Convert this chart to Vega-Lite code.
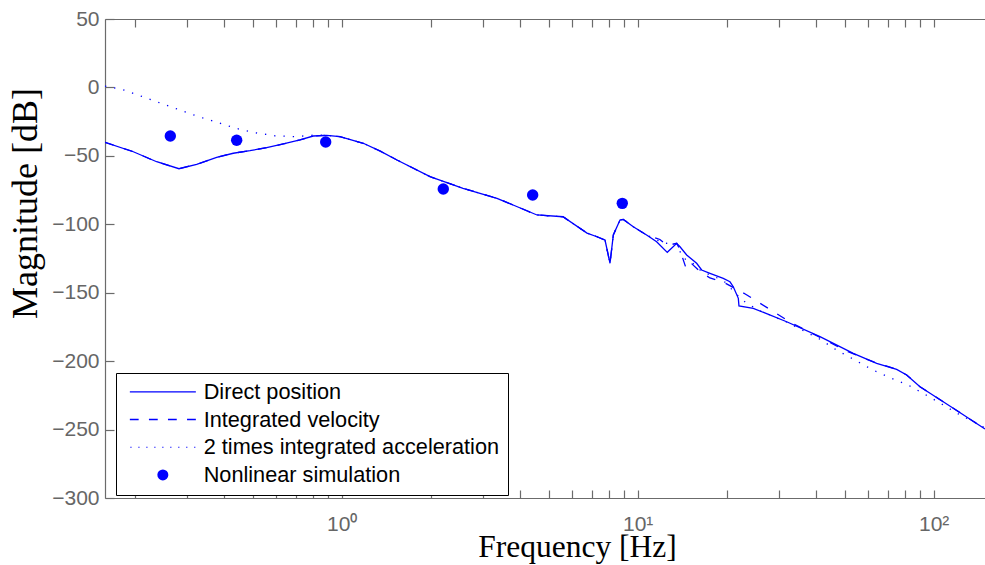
{
  "$schema": "https://vega.github.io/schema/vega-lite/v6.json",
  "width": 880,
  "height": 479,
  "autosize": {"type": "none"},
  "padding": {"left": 105, "top": 19, "right": 0, "bottom": 67},
  "background": "white",
  "config": {
    "view": {"stroke": null},
    "axis": {
      "grid": false,
      "domainColor": "#6b6b6b",
      "domainWidth": 1.2,
      "tickColor": "#6b6b6b",
      "tickWidth": 1.2,
      "labelColor": "#666666",
      "labelFont": "Liberation Sans",
      "labelFontSize": 21,
      "titleFont": "Liberation Serif",
      "titleFontWeight": "normal",
      "titleColor": "black"
    }
  },
  "datasets": {
    "lines": [
      {"f": 0.1586, "mag": -40.1, "series": "Direct position"},
      {"f": 0.1977, "mag": -47.0, "series": "Direct position"},
      {"f": 0.2371, "mag": -54.3, "series": "Direct position"},
      {"f": 0.282, "mag": -59.4, "series": "Direct position"},
      {"f": 0.3236, "mag": -56.2, "series": "Direct position"},
      {"f": 0.3781, "mag": -51.1, "series": "Direct position"},
      {"f": 0.4302, "mag": -48.1, "series": "Direct position"},
      {"f": 0.4899, "mag": -46.2, "series": "Direct position"},
      {"f": 0.5579, "mag": -44.0, "series": "Direct position"},
      {"f": 0.6349, "mag": -41.3, "series": "Direct position"},
      {"f": 0.723, "mag": -38.4, "series": "Direct position"},
      {"f": 0.8016, "mag": -35.5, "series": "Direct position"},
      {"f": 0.8898, "mag": -35.0, "series": "Direct position"},
      {"f": 0.9869, "mag": -36.0, "series": "Direct position"},
      {"f": 1.183, "mag": -40.8, "series": "Direct position"},
      {"f": 1.35, "mag": -46.5, "series": "Direct position"},
      {"f": 1.537, "mag": -53.0, "series": "Direct position"},
      {"f": 1.988, "mag": -65.2, "series": "Direct position"},
      {"f": 2.57, "mag": -73.7, "series": "Direct position"},
      {"f": 3.347, "mag": -81.0, "series": "Direct position"},
      {"f": 4.569, "mag": -93.2, "series": "Direct position"},
      {"f": 5.592, "mag": -94.5, "series": "Direct position"},
      {"f": 6.743, "mag": -106.4, "series": "Direct position"},
      {"f": 7.288, "mag": -109.1, "series": "Direct position"},
      {"f": 7.756, "mag": -111.5, "series": "Direct position"},
      {"f": 8.064, "mag": -128.5, "series": "Direct position"},
      {"f": 8.274, "mag": -107.8, "series": "Direct position"},
      {"f": 8.715, "mag": -96.9, "series": "Direct position"},
      {"f": 8.943, "mag": -96.4, "series": "Direct position"},
      {"f": 9.664, "mag": -101.8, "series": "Direct position"},
      {"f": 10.72, "mag": -107.8, "series": "Direct position"},
      {"f": 11.59, "mag": -112.7, "series": "Direct position"},
      {"f": 12.59, "mag": -120.5, "series": "Direct position"},
      {"f": 13.55, "mag": -113.9, "series": "Direct position"},
      {"f": 13.9, "mag": -116.4, "series": "Direct position"},
      {"f": 14.64, "mag": -122.4, "series": "Direct position"},
      {"f": 15.82, "mag": -128.5, "series": "Direct position"},
      {"f": 16.45, "mag": -133.4, "series": "Direct position"},
      {"f": 17.55, "mag": -135.8, "series": "Direct position"},
      {"f": 19.46, "mag": -139.5, "series": "Direct position"},
      {"f": 20.5, "mag": -142.0, "series": "Direct position"},
      {"f": 21.04, "mag": -145.6, "series": "Direct position"},
      {"f": 21.88, "mag": -154.1, "series": "Direct position"},
      {"f": 21.99, "mag": -159.7, "series": "Direct position"},
      {"f": 24.58, "mag": -161.4, "series": "Direct position"},
      {"f": 31.87, "mag": -171.2, "series": "Direct position"},
      {"f": 41.29, "mag": -182.1, "series": "Direct position"},
      {"f": 53.5, "mag": -194.3, "series": "Direct position"},
      {"f": 64.19, "mag": -201.6, "series": "Direct position"},
      {"f": 74.99, "mag": -206.0, "series": "Direct position"},
      {"f": 81.06, "mag": -210.1, "series": "Direct position"},
      {"f": 89.91, "mag": -218.7, "series": "Direct position"},
      {"f": 116.5, "mag": -234.4, "series": "Direct position"},
      {"f": 149.1, "mag": -249.6, "series": "Direct position"},

      {"f": 0.1586, "mag": -40.1, "series": "Integrated velocity"},
      {"f": 0.1977, "mag": -47.0, "series": "Integrated velocity"},
      {"f": 0.2371, "mag": -54.3, "series": "Integrated velocity"},
      {"f": 0.282, "mag": -59.4, "series": "Integrated velocity"},
      {"f": 0.3236, "mag": -56.2, "series": "Integrated velocity"},
      {"f": 0.3781, "mag": -51.1, "series": "Integrated velocity"},
      {"f": 0.4302, "mag": -48.1, "series": "Integrated velocity"},
      {"f": 0.4899, "mag": -46.2, "series": "Integrated velocity"},
      {"f": 0.5579, "mag": -44.0, "series": "Integrated velocity"},
      {"f": 0.6349, "mag": -41.3, "series": "Integrated velocity"},
      {"f": 0.723, "mag": -38.4, "series": "Integrated velocity"},
      {"f": 0.8016, "mag": -35.5, "series": "Integrated velocity"},
      {"f": 0.8898, "mag": -35.0, "series": "Integrated velocity"},
      {"f": 0.9869, "mag": -36.0, "series": "Integrated velocity"},
      {"f": 1.183, "mag": -40.8, "series": "Integrated velocity"},
      {"f": 1.35, "mag": -46.5, "series": "Integrated velocity"},
      {"f": 1.537, "mag": -53.0, "series": "Integrated velocity"},
      {"f": 1.988, "mag": -65.2, "series": "Integrated velocity"},
      {"f": 2.57, "mag": -73.7, "series": "Integrated velocity"},
      {"f": 3.347, "mag": -81.0, "series": "Integrated velocity"},
      {"f": 4.569, "mag": -93.2, "series": "Integrated velocity"},
      {"f": 5.592, "mag": -94.5, "series": "Integrated velocity"},
      {"f": 6.743, "mag": -106.4, "series": "Integrated velocity"},
      {"f": 7.288, "mag": -109.1, "series": "Integrated velocity"},
      {"f": 7.756, "mag": -111.5, "series": "Integrated velocity"},
      {"f": 8.064, "mag": -128.5, "series": "Integrated velocity"},
      {"f": 8.274, "mag": -107.8, "series": "Integrated velocity"},
      {"f": 8.715, "mag": -96.9, "series": "Integrated velocity"},
      {"f": 8.943, "mag": -96.4, "series": "Integrated velocity"},
      {"f": 9.664, "mag": -101.8, "series": "Integrated velocity"},
      {"f": 10.72, "mag": -107.8, "series": "Integrated velocity"},
      {"f": 11.89, "mag": -111.1, "series": "Integrated velocity"},
      {"f": 12.56, "mag": -115.5, "series": "Integrated velocity"},
      {"f": 13.55, "mag": -113.9, "series": "Integrated velocity"},
      {"f": 13.9, "mag": -118.8, "series": "Integrated velocity"},
      {"f": 14.56, "mag": -131.9, "series": "Integrated velocity"},
      {"f": 15.02, "mag": -127.6, "series": "Integrated velocity"},
      {"f": 16.24, "mag": -134.5, "series": "Integrated velocity"},
      {"f": 17.55, "mag": -139.2, "series": "Integrated velocity"},
      {"f": 19.72, "mag": -142.9, "series": "Integrated velocity"},
      {"f": 23.09, "mag": -150.9, "series": "Integrated velocity"},
      {"f": 32.69, "mag": -171.4, "series": "Integrated velocity"},
      {"f": 51.34, "mag": -193.1, "series": "Integrated velocity"},
      {"f": 62.37, "mag": -200.4, "series": "Integrated velocity"},
      {"f": 74.99, "mag": -206.0, "series": "Integrated velocity"},
      {"f": 81.06, "mag": -210.1, "series": "Integrated velocity"},
      {"f": 89.91, "mag": -218.7, "series": "Integrated velocity"},
      {"f": 116.5, "mag": -234.4, "series": "Integrated velocity"},
      {"f": 149.1, "mag": -249.6, "series": "Integrated velocity"},

      {"f": 0.1586, "mag": 1.0, "series": "2 times integrated acceleration"},
      {"f": 0.1838, "mag": -1.9, "series": "2 times integrated acceleration"},
      {"f": 0.2127, "mag": -6.8, "series": "2 times integrated acceleration"},
      {"f": 0.2452, "mag": -11.6, "series": "2 times integrated acceleration"},
      {"f": 0.2842, "mag": -16.5, "series": "2 times integrated acceleration"},
      {"f": 0.3287, "mag": -21.4, "series": "2 times integrated acceleration"},
      {"f": 0.3799, "mag": -25.5, "series": "2 times integrated acceleration"},
      {"f": 0.4394, "mag": -29.9, "series": "2 times integrated acceleration"},
      {"f": 0.5106, "mag": -33.1, "series": "2 times integrated acceleration"},
      {"f": 0.5937, "mag": -35.3, "series": "2 times integrated acceleration"},
      {"f": 0.6955, "mag": -36.0, "series": "2 times integrated acceleration"},
      {"f": 0.8125, "mag": -34.8, "series": "2 times integrated acceleration"},
      {"f": 0.8898, "mag": -35.0, "series": "2 times integrated acceleration"},
      {"f": 0.9869, "mag": -36.0, "series": "2 times integrated acceleration"},
      {"f": 1.183, "mag": -40.8, "series": "2 times integrated acceleration"},
      {"f": 1.35, "mag": -46.5, "series": "2 times integrated acceleration"},
      {"f": 1.537, "mag": -53.0, "series": "2 times integrated acceleration"},
      {"f": 1.988, "mag": -65.2, "series": "2 times integrated acceleration"},
      {"f": 2.57, "mag": -73.7, "series": "2 times integrated acceleration"},
      {"f": 3.347, "mag": -81.0, "series": "2 times integrated acceleration"},
      {"f": 4.569, "mag": -93.2, "series": "2 times integrated acceleration"},
      {"f": 5.592, "mag": -94.5, "series": "2 times integrated acceleration"},
      {"f": 6.743, "mag": -106.4, "series": "2 times integrated acceleration"},
      {"f": 7.288, "mag": -109.1, "series": "2 times integrated acceleration"},
      {"f": 7.756, "mag": -111.5, "series": "2 times integrated acceleration"},
      {"f": 8.064, "mag": -128.5, "series": "2 times integrated acceleration"},
      {"f": 8.274, "mag": -107.8, "series": "2 times integrated acceleration"},
      {"f": 8.715, "mag": -96.9, "series": "2 times integrated acceleration"},
      {"f": 8.943, "mag": -96.4, "series": "2 times integrated acceleration"},
      {"f": 9.664, "mag": -101.8, "series": "2 times integrated acceleration"},
      {"f": 10.72, "mag": -107.8, "series": "2 times integrated acceleration"},
      {"f": 12.2, "mag": -113.7, "series": "2 times integrated acceleration"},
      {"f": 13.55, "mag": -114.5, "series": "2 times integrated acceleration"},
      {"f": 14.22, "mag": -124.6, "series": "2 times integrated acceleration"},
      {"f": 15.2, "mag": -127.5, "series": "2 times integrated acceleration"},
      {"f": 16.45, "mag": -134.5, "series": "2 times integrated acceleration"},
      {"f": 19.46, "mag": -141.0, "series": "2 times integrated acceleration"},
      {"f": 22.51, "mag": -155.3, "series": "2 times integrated acceleration"},
      {"f": 23.98, "mag": -159.0, "series": "2 times integrated acceleration"},
      {"f": 25.5, "mag": -162.6, "series": "2 times integrated acceleration"},
      {"f": 31.87, "mag": -171.5, "series": "2 times integrated acceleration"},
      {"f": 41.29, "mag": -184.0, "series": "2 times integrated acceleration"},
      {"f": 47.0, "mag": -191.9, "series": "2 times integrated acceleration"},
      {"f": 54.2, "mag": -199.2, "series": "2 times integrated acceleration"},
      {"f": 61.7, "mag": -206.0, "series": "2 times integrated acceleration"},
      {"f": 71.2, "mag": -212.1, "series": "2 times integrated acceleration"},
      {"f": 81.9, "mag": -217.4, "series": "2 times integrated acceleration"},
      {"f": 94.2, "mag": -224.7, "series": "2 times integrated acceleration"},
      {"f": 106.4, "mag": -231.3, "series": "2 times integrated acceleration"},
      {"f": 122.7, "mag": -239.3, "series": "2 times integrated acceleration"},
      {"f": 139.7, "mag": -245.4, "series": "2 times integrated acceleration"},
      {"f": 149.1, "mag": -248.8, "series": "2 times integrated acceleration"}
    ],
    "sim": [
      {"f": 0.2636, "mag": -35.5, "series": "Nonlinear simulation"},
      {"f": 0.4418, "mag": -38.6, "series": "Nonlinear simulation"},
      {"f": 0.883, "mag": -39.9, "series": "Nonlinear simulation"},
      {"f": 2.204, "mag": -74.2, "series": "Nonlinear simulation"},
      {"f": 4.418, "mag": -78.6, "series": "Nonlinear simulation"},
      {"f": 8.872, "mag": -84.7, "series": "Nonlinear simulation"}
    ]
  },
  "layer": [
    {
      "data": {"name": "lines"},
      "transform": [{"filter": "datum.series == 'Direct position'"}],
      "mark": {"type": "line", "stroke": "#0000ff", "strokeWidth": 1.3, "clip": true},
      "encoding": {
        "x": {
          "field": "f", "type": "quantitative",
          "scale": {"type": "log", "domain": [0.1586, 149.1], "nice": false},
          "axis": {
            "orient": "bottom",
            "values": [0.2,0.3,0.4,0.5,0.6,0.7,0.8,0.9,1,2,3,4,5,6,7,8,9,10,20,30,40,50,60,70,80,90,100],
            "labelExpr": "datum.value == 1 ? '10⁰' : datum.value == 10 ? '10¹' : datum.value == 100 ? '10²' : ''",
            "tickSize": -8,
            "encode": {"ticks": {"update": {"y2": {"signal": "abs(log(datum.value)/LN10 - round(log(datum.value)/LN10)) < 0.001 ? -8 : -4"}}}},
            "labelPadding": 23,
            "labelFlush": false,
            "labelOverlap": false,
            "title": "Frequency [Hz]",
            "titleFontSize": 31.5,
            "titleX": 472,
            "titleY": 58,
            "titleAlign": "center",
            "titleBaseline": "alphabetic"
          }
        },
        "y": {
          "field": "mag", "type": "quantitative",
          "scale": {"domain": [-300, 50], "nice": false, "zero": false},
          "axis": {
            "orient": "left",
            "values": [-300,-250,-200,-150,-100,-50,0,50],
            "tickSize": -9,
            "labelPadding": 15,
            "title": "Magnitude [dB]",
            "titleFontSize": 36,
            "titleAngle": 270,
            "titleX": -69,
            "titleY": 184,
            "titleAlign": "center",
            "titleBaseline": "alphabetic"
          }
        }
      }
    },
    {
      "data": {"name": "lines"},
      "transform": [{"filter": "datum.series == 'Integrated velocity'"}],
      "mark": {"type": "line", "stroke": "#0000ff", "strokeWidth": 1.3, "strokeDash": [9, 11], "clip": true},
      "encoding": {
        "x": {"field": "f", "type": "quantitative", "axis": null},
        "y": {"field": "mag", "type": "quantitative", "axis": null}
      }
    },
    {
      "data": {"name": "lines"},
      "transform": [{"filter": "datum.series == '2 times integrated acceleration'"}],
      "mark": {"type": "line", "stroke": "#0000ff", "strokeWidth": 1.3, "strokeDash": [1.3, 8], "clip": true},
      "encoding": {
        "x": {"field": "f", "type": "quantitative", "axis": null},
        "y": {"field": "mag", "type": "quantitative", "axis": null}
      }
    },
    {
      "data": {"name": "sim"},
      "mark": {"type": "point", "filled": true, "fill": "#0000ff", "opacity": 1, "size": 130, "clip": true},
      "encoding": {
        "x": {
          "field": "f", "type": "quantitative",
          "axis": {
            "orient": "top",
            "values": [0.2,0.3,0.4,0.5,0.6,0.7,0.8,0.9,1,2,3,4,5,6,7,8,9,10,20,30,40,50,60,70,80,90,100],
            "labels": false,
            "tickSize": -8,
            "encode": {"ticks": {"update": {"y2": {"signal": "abs(log(datum.value)/LN10 - round(log(datum.value)/LN10)) < 0.001 ? 8 : 4"}}}},
            "title": null
          }
        },
        "y": {"field": "mag", "type": "quantitative", "axis": null},
        "shape": {
          "field": "series", "type": "nominal",
          "scale": {
            "domain": ["Direct position", "Integrated velocity", "2 times integrated acceleration", "Nonlinear simulation"],
            "range": [
              "M-6,-0.13H6V0.13H-6Z",
              "M-6,-0.13H-4.4V0.13H-6Z M-2.53,-0.13H-0.93V0.13H-2.53Z M0.93,-0.13H2.53V0.13H0.93Z M4.4,-0.13H6V0.13H4.4Z",
              "M-5.91,-0.11H-5.69V0.11H-5.91Z M-4.46,-0.11H-4.24V0.11H-4.46Z M-3.01,-0.11H-2.79V0.11H-3.01Z M-1.56,-0.11H-1.34V0.11H-1.56Z M-0.11,-0.11H0.11V0.11H-0.11Z M1.34,-0.11H1.56V0.11H1.34Z M2.79,-0.11H3.01V0.11H2.79Z M4.24,-0.11H4.46V0.11H4.24Z M5.69,-0.11H5.91V0.11H5.69Z",
              "circle"
            ]
          },
          "legend": {
            "orient": "none", "legendX": 11, "legendY": 354,
            "title": null, "fillColor": "white", "strokeColor": "black",
            "padding": 8, "labelFont": "Liberation Sans", "labelFontSize": 21.7, "labelColor": "black", "labelLimit": 500,
            "symbolSize": 121, "symbolStrokeWidth": 0, "symbolFillColor": "#0000ff", "symbolOpacity": 1,
            "symbolOffset": 28, "labelOffset": 30, "rowPadding": 4.7
          }
        }
      }
    }
  ],
  "resolve": {"axis": {"x": "independent", "y": "independent"}}
}
